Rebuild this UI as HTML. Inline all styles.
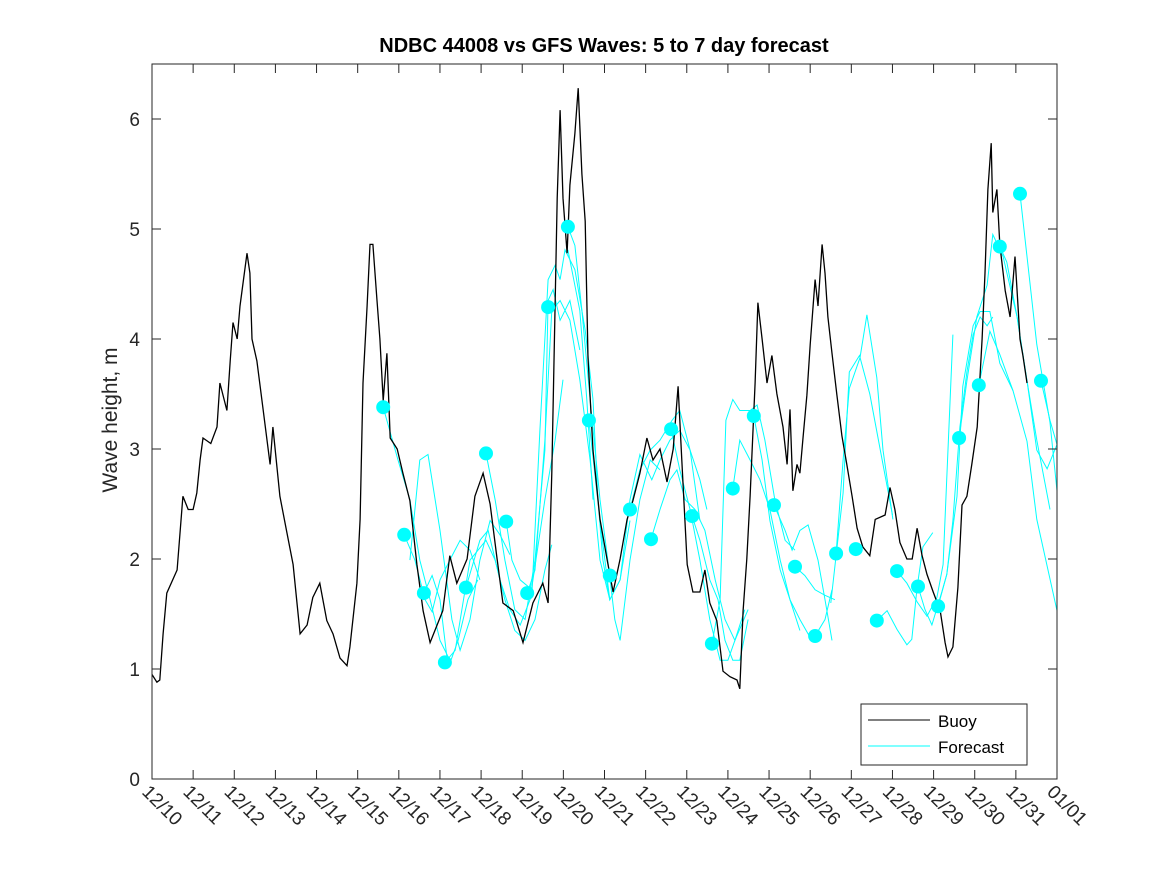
<!DOCTYPE html>
<html><head><meta charset="utf-8"><style>
html,body{margin:0;padding:0;background:#fff;}
svg{display:block;font-family:"Liberation Sans","DejaVu Sans",sans-serif;}
</style></head><body>
<svg id="chart" width="1167" height="875" viewBox="0 0 1167 875" xmlns="http://www.w3.org/2000/svg">
<rect x="0" y="0" width="1167" height="875" fill="#fff"/>
<text x="604" y="52" text-anchor="middle" font-size="20" font-weight="bold" fill="#000">NDBC 44008 vs GFS Waves: 5 to 7 day forecast</text>
<text transform="translate(117,420) rotate(-90)" text-anchor="middle" font-size="21" fill="#262626">Wave height, m</text>
<defs><clipPath id="plotclip"><rect x="152" y="64" width="905" height="715"/></clipPath></defs>
<g id="marks" clip-path="url(#plotclip)"></g>
<g id="axes"></g>
<g>
<rect x="861" y="704" width="166" height="61" fill="#fff" stroke="#262626" stroke-width="1"/>
<line x1="868" y1="720" x2="930" y2="720" stroke="#000" stroke-width="1"/>
<text x="938" y="727" font-size="17" fill="#000">Buoy</text>
<line x1="868" y1="746" x2="930" y2="746" stroke="#00ffff" stroke-width="1"/>
<text x="938" y="753" font-size="17" fill="#000">Forecast</text>
</g>
</svg>
<script>
const xTickLabels = ["12/10","12/11","12/12","12/13","12/14","12/15","12/16","12/17","12/18","12/19","12/20","12/21","12/22","12/23","12/24","12/25","12/26","12/27","12/28","12/29","12/30","12/31","01/01"];
const yTicks = [0,1,2,3,4,5,6];
const buoyDays = [0,0.12,0.19,0.27,0.36,0.61,0.75,0.88,1.0,1.09,1.17,1.24,1.43,1.58,1.65,1.82,1.9,1.97,2.07,2.14,2.31,2.38,2.43,2.55,2.7,2.87,2.94,3.11,3.28,3.43,3.6,3.77,3.91,4.08,4.25,4.4,4.57,4.74,4.81,4.98,5.06,5.13,5.23,5.3,5.37,5.47,5.54,5.62,5.71,5.79,5.96,6.1,6.27,6.44,6.59,6.76,6.93,7.07,7.24,7.41,7.66,7.85,8.05,8.22,8.39,8.53,8.78,9.02,9.26,9.5,9.63,9.72,9.85,9.92,9.99,10.09,10.16,10.28,10.36,10.45,10.53,10.6,10.72,10.89,11.06,11.21,11.38,11.55,11.69,11.86,12.03,12.18,12.35,12.52,12.67,12.79,12.88,13.01,13.15,13.32,13.44,13.56,13.73,13.88,14.05,14.22,14.29,14.37,14.46,14.54,14.66,14.73,14.83,14.95,15.07,15.19,15.34,15.44,15.51,15.58,15.68,15.75,15.83,15.92,16.0,16.12,16.19,16.29,16.36,16.43,16.53,16.65,16.77,16.89,17.02,17.14,17.28,17.45,17.58,17.82,17.94,18.06,18.18,18.35,18.48,18.6,18.72,18.84,18.99,19.16,19.28,19.35,19.47,19.59,19.69,19.81,19.93,20.06,20.18,20.25,20.32,20.4,20.44,20.54,20.61,20.74,20.86,20.98,21.1,21.17,21.27];
const buoyVals = [0.95,0.88,0.9,1.32,1.69,1.9,2.57,2.45,2.45,2.6,2.9,3.1,3.05,3.2,3.6,3.35,3.8,4.15,4.0,4.3,4.78,4.6,4.0,3.8,3.36,2.86,3.2,2.57,2.24,1.95,1.32,1.4,1.65,1.78,1.44,1.32,1.1,1.03,1.2,1.78,2.36,3.6,4.3,4.86,4.86,4.35,4.0,3.44,3.87,3.1,3.0,2.78,2.53,1.95,1.53,1.24,1.4,1.53,2.03,1.78,2.0,2.57,2.78,2.5,2.0,1.6,1.53,1.24,1.6,1.78,1.6,2.78,5.28,6.08,5.28,4.78,5.4,5.87,6.28,5.5,5.07,3.83,2.99,2.36,2.0,1.7,2.0,2.36,2.53,2.78,3.1,2.9,3.0,2.7,3.0,3.57,2.9,1.95,1.7,1.7,1.9,1.6,1.44,0.98,0.93,0.9,0.82,1.53,2.0,2.57,3.6,4.33,4.0,3.6,3.85,3.5,3.2,2.86,3.36,2.62,2.86,2.78,3.12,3.49,3.95,4.54,4.3,4.86,4.6,4.2,3.87,3.49,3.12,2.86,2.57,2.28,2.11,2.03,2.36,2.4,2.65,2.45,2.15,2.0,2.0,2.28,2.03,1.86,1.7,1.53,1.24,1.11,1.2,1.74,2.49,2.57,2.86,3.2,4.0,4.6,5.36,5.78,5.15,5.36,4.86,4.44,4.2,4.75,4.0,3.85,3.6];
const dotDays = [5.62,6.13,6.61,7.12,7.63,8.12,8.61,9.12,9.63,10.11,10.62,11.13,11.62,12.13,12.62,13.13,13.61,14.12,14.63,15.12,15.63,16.12,16.63,17.11,17.62,18.11,18.62,19.11,19.62,20.1,20.61,21.1,21.61];
const dotVals = [3.38,2.22,1.69,1.06,1.74,2.96,2.34,1.69,4.29,5.02,3.26,1.85,2.45,2.18,3.18,2.39,1.23,2.64,3.3,2.49,1.93,1.3,2.05,2.09,1.44,1.89,1.75,1.57,3.1,3.58,4.84,5.32,3.62];
const fcDays = [
[5.62,5.98,6.27,6.51,6.76,7.0,7.24],
[6.13,6.39,6.64,6.81,7.0,7.24,7.49,7.73,7.97],
[6.27,6.51,6.71,7.0,7.29,7.49,7.73,7.97,8.22,8.46,8.7],
[6.61,6.81,7.0,7.2,7.44,7.68,7.92],
[7.12,7.37,7.73,8.12,8.34,8.58,8.82,9.07,9.31,9.55,9.72],
[7.63,7.97,8.17,8.46,8.7,8.95,9.19,9.55,9.8,9.99],
[8.12,8.34,8.58,8.82,9.07,9.31,9.55,9.63,9.75,9.92,10.16,10.4],
[8.61,8.75,8.95,9.24,9.43,9.63,9.8,9.92,10.04,10.28,10.53,10.72,10.84,10.96,11.13],
[9.12,9.31,9.55,9.72,9.92,10.16,10.4,10.65,10.89,11.13,11.38,11.62],
[10.11,10.28,10.45,10.65,10.89,11.08,11.25,11.38,11.62,11.86,12.11,12.35],
[10.11,10.4,10.57,10.72],
[10.62,10.89,11.13,11.38,11.62,11.86,12.15,12.35,12.59,12.83,13.08,13.32],
[11.62,11.86,12.11,12.35,12.64,12.83,13.08,13.32,13.49],
[12.13,12.35,12.59,12.76,12.96,13.2,13.44,13.69,13.93,14.17,14.41],
[12.62,12.83,13.08,13.32,13.56,13.81,14.0,14.17,14.49],
[13.13,13.32,13.56,13.76,13.93,14.12,14.29,14.49],
[13.61,13.81,13.95,14.12,14.29,14.54,14.71,14.9,15.14,15.39,15.63],
[14.12,14.29,14.54,14.78,15.02,15.27,15.51,15.75],
[14.63,14.83,15.02,15.27,15.51,15.75,16.04],
[15.12,15.39,15.56,15.75,15.95,16.19,16.36,16.53],
[15.63,15.87,16.12,16.36,16.6],
[16.12,16.36,16.53],
[16.63,16.8,16.95,17.21,17.38,17.62,17.77,18.01],
[16.5,16.8,16.95,17.2,17.45,17.7,18.0],
[17.62,17.87,18.11,18.35,18.47,18.6,18.74,18.98],
[18.11,18.35,18.6,18.84,19.08,19.23,19.47],
[18.62,18.79,18.96,19.2,19.32,19.47,19.64,19.81,19.96,20.13,20.3,20.44],
[19.11,19.32,19.57,19.71,19.96,20.13,20.37,20.61,20.93],
[19.62,19.81,20.05,20.3,20.44,20.69,21.03,21.27,21.51,21.76,22.0],
[20.1,20.37,20.61,20.93,21.27,21.51,22.0],
[20.61,20.78,21.03,21.27,21.51,21.83],
[21.1,21.27,21.51,21.66,21.83,22.0],
[21.61,21.83,22.0]
];
const fcVals = [
[3.38,2.9,2.54,1.99,1.63,1.26,1.08],
[2.22,1.99,1.63,1.52,1.81,1.99,2.17,2.08,1.81],
[1.99,2.9,2.95,2.26,1.45,1.17,1.45,1.99,2.35,2.22,2.04],
[1.69,1.85,1.63,1.01,1.26,1.63,1.81],
[1.06,1.17,1.99,2.17,1.99,1.63,1.35,1.26,1.45,1.9,2.13],
[1.74,2.17,2.26,1.81,1.54,1.4,1.63,2.54,3.08,3.63],
[2.96,2.54,1.99,1.54,1.45,1.99,2.99,4.35,4.45,4.17,4.35,3.9],
[2.34,1.99,1.81,1.72,3.17,4.54,4.67,4.54,4.81,4.63,4.08,3.45,2.54,1.99,1.63],
[1.69,1.9,3.08,4.26,4.35,4.17,3.63,2.9,1.99,1.63,1.81,2.35],
[5.02,4.85,4.26,3.45,2.54,1.99,1.45,1.26,1.99,2.54,2.9,2.81],
[4.81,4.26,3.45,2.54],
[3.26,2.35,1.63,1.81,2.54,2.95,2.72,2.9,3.08,3.17,2.99,2.35],
[2.45,2.81,2.99,3.08,3.26,3.35,2.99,2.72,2.45],
[2.18,2.45,2.72,2.81,2.54,2.45,2.26,1.81,1.45,1.26,1.54],
[3.18,2.81,2.45,1.99,1.45,1.08,1.08,1.26,1.54],
[2.39,2.17,1.81,1.63,1.26,1.08,1.08,1.45],
[1.23,1.63,3.26,3.45,3.35,3.35,3.4,3.08,2.54,2.17,2.08],
[2.64,3.08,2.9,2.72,2.45,1.99,1.63,1.35],
[3.3,2.9,2.35,1.9,1.63,1.45,1.26],
[2.49,2.26,2.08,2.26,2.31,1.99,1.63,1.26],
[1.93,1.85,1.72,1.67,1.63],
[1.3,1.45,1.72],
[2.05,2.9,3.55,3.83,4.22,3.65,2.99,2.36],
[1.6,2.6,3.7,3.85,3.5,3.0,2.4],
[1.44,1.53,1.36,1.22,1.27,1.74,2.11,2.24],
[1.89,1.78,1.61,1.48,1.65,1.95,4.04],
[1.75,1.54,1.4,1.7,1.86,2.35,3.2,3.7,4.04,4.2,4.12,4.2],
[1.57,1.86,2.57,3.57,4.12,4.25,4.25,3.78,3.53],
[3.1,3.62,4.2,4.49,4.95,4.75,4.2,3.62,2.99,2.82,3.04],
[3.58,4.07,3.86,3.53,3.07,2.36,1.53],
[4.84,4.7,4.2,3.62,3.08,2.45],
[5.32,4.75,3.95,3.62,3.24,2.62],
[3.62,3.26,3.04]
];

const NS = "http://www.w3.org/2000/svg";
const X0 = 152, X1 = 1057, Y0 = 779, Y1 = 64;
const xMax = 22, yMax = 6.5;
function xs(d){ return X0 + d/xMax*(X1-X0); }
function ys(v){ return Y0 - v/yMax*(Y0-Y1); }
const marks = document.getElementById('marks');
const axes = document.getElementById('axes');

// forecast lines
fcDays.forEach((days, i) => {
  const pts = days.map((d, j) => xs(d).toFixed(1) + ',' + ys(fcVals[i][j]).toFixed(1)).join(' ');
  const pl = document.createElementNS(NS, 'polyline');
  pl.setAttribute('points', pts);
  pl.setAttribute('fill', 'none');
  pl.setAttribute('stroke', '#00ffff');
  pl.setAttribute('stroke-width', '1');
  
  
  marks.appendChild(pl);
});
// buoy line (stairs-like hourly look approximated)
{
  const pts = buoyDays.map((d, j) => xs(d).toFixed(1) + ',' + ys(buoyVals[j]).toFixed(1)).join(' ');
  const pl = document.createElementNS(NS, 'polyline');
  pl.setAttribute('points', pts);
  pl.setAttribute('fill', 'none');
  pl.setAttribute('stroke', '#000');
  pl.setAttribute('stroke-width', '1.3');
  
  
  marks.appendChild(pl);
}
// forecast dots
dotDays.forEach((d, i) => {
  const c = document.createElementNS(NS, 'circle');
  c.setAttribute('cx', xs(d).toFixed(1));
  c.setAttribute('cy', ys(dotVals[i]).toFixed(1));
  c.setAttribute('r', '7');
  c.setAttribute('fill', '#00ffff');
  
  
  marks.appendChild(c);
});

// axes box
const box = document.createElementNS(NS, 'rect');
box.setAttribute('x', X0); box.setAttribute('y', Y1);
box.setAttribute('width', X1-X0); box.setAttribute('height', Y0-Y1);
box.setAttribute('fill', 'none'); box.setAttribute('stroke', '#262626'); box.setAttribute('stroke-width', '1');


axes.appendChild(box);

function addLine(x1,y1,x2,y2){
  const l = document.createElementNS(NS, 'line');
  l.setAttribute('x1',x1); l.setAttribute('y1',y1); l.setAttribute('x2',x2); l.setAttribute('y2',y2);
  l.setAttribute('stroke','#262626'); l.setAttribute('stroke-width','1');
  
  
  axes.appendChild(l);
}
yTicks.forEach(v => {
  const y = ys(v);
  addLine(X0, y, X0+9, y);
  addLine(X1, y, X1-9, y);
  const t = document.createElementNS(NS, 'text');
  t.setAttribute('x', X0-12); t.setAttribute('y', y+7);
  t.setAttribute('text-anchor', 'end'); t.setAttribute('font-size', '19'); t.setAttribute('fill', '#262626');
  t.textContent = v;
  
  
  axes.appendChild(t);
});
xTickLabels.forEach((lab, i) => {
  const x = xs(i);
  addLine(x, Y0, x, Y0-9);
  addLine(x, Y1, x, Y1+9);
  const t = document.createElementNS(NS, 'text');
  t.setAttribute('transform', 'translate(' + (x-11).toFixed(1) + ',' + (Y0+14) + ') rotate(45)');
  t.setAttribute('font-size', '19'); t.setAttribute('fill', '#262626');
  t.textContent = lab;
  
  
  axes.appendChild(t);
});
</script>
</body></html>
